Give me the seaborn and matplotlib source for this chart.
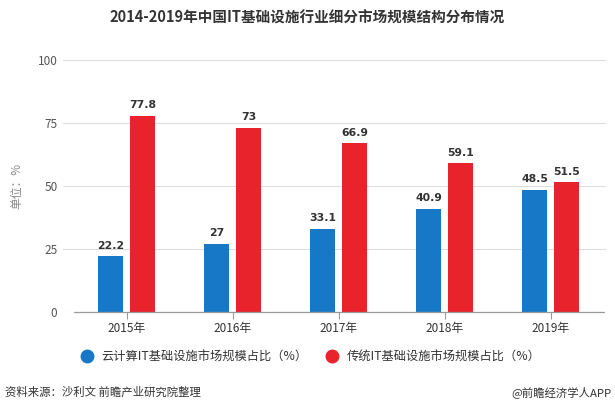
import matplotlib
matplotlib.use("Agg")
import matplotlib.pyplot as plt
import seaborn as sns
import pandas as pd
from matplotlib.lines import Line2D

years = ["2015年", "2016年", "2017年", "2018年", "2019年"]
cloud = [22.2, 27, 33.1, 40.9, 48.5]
trad = [77.8, 73, 66.9, 59.1, 51.5]
series_names = ["云计算IT基础设施市场规模占比（%）", "传统IT基础设施市场规模占比（%）"]
yticks = [0, 25, 50, 75, 100]

sns.set_theme(style="white")
plt.rcParams['font.family'] = ['Noto Sans CJK SC', 'DejaVu Sans']

df = pd.DataFrame({
    "year": years * 2,
    "value": cloud + trad,
    "series": [series_names[0]] * 5 + [series_names[1]] * 5,
})

colors = ["#1878c8", "#e8232b"]

W, H = 615, 415
left_px, right_px, top_px, bot_px = 63, 606, 60, 312
fig = plt.figure(figsize=(W / 100, H / 100), dpi=100)
ax = fig.add_axes([left_px / W, 1 - bot_px / H, (right_px - left_px) / W, (bot_px - top_px) / H])
sns.barplot(data=df, x="year", y="value", hue="series", palette=colors,
            width=0.604, gap=0.235, ax=ax, legend=False, saturation=1, linewidth=0)

# category spacing 106 px, first centre at x=126.5 px
unit = 106.0
c0 = 126.5
ax.set_xlim(-(c0 - left_px) / unit, (right_px - c0) / unit)
ax.set_ylim(0, 100)
ax.set_yticks(yticks)
ax.set_yticklabels([str(t) for t in yticks], color="#555555", fontsize=8.5)
ax.tick_params(axis='y', length=0, pad=4)
ax.set_xticks(range(len(years)))
ax.set_xticklabels(years, color="#333333", fontsize=8.5)
ax.tick_params(axis='x', length=5, color="#999999", width=0.8, pad=2, direction='out', bottom=True)
ax.grid(axis='y', color="#dddddd", linewidth=0.8)
ax.set_axisbelow(True)
for s in ["top", "right", "left", "bottom"]:
    ax.spines[s].set_visible(False)
# bottom axis line only over the category range
ax.plot([-0.5, 4.5], [0, 0], color="#999999", linewidth=0.9, clip_on=False, zorder=3)
ax.set_xlabel("")
ax.set_ylabel("单位：%", color="#888888", fontsize=8.5, labelpad=10)

for container in ax.containers:
    ax.bar_label(container, labels=[f"{v:g}" for v in container.datavalues],
                 padding=4, fontsize=7.8, fontweight="bold", color="#333333",
                 family="DejaVu Sans")

fig.text(0.5, 1 - 18 / H, "2014-2019年中国IT基础设施行业细分市场规模结构分布情况",
         ha="center", va="center", fontsize=10.5, fontweight="bold", color="#333333")

handles = [Line2D([0], [0], marker='o', linestyle='', markersize=9,
                  markerfacecolor=c, markeredgecolor=c) for c in colors]
fig.legend(handles, series_names, loc="center", bbox_to_anchor=(0.5, 1 - 357 / H),
           ncol=2, frameon=False, fontsize=8.8, handletextpad=0.2, columnspacing=1.0,
           labelcolor="#333333")

fig.text(0.008, 1 - 392 / H, "资料来源：沙利文 前瞻产业研究院整理", ha="left", va="center",
         fontsize=8.2, color="#333333")
fig.text(0.995, 1 - 392 / H, "@前瞻经济学人APP", ha="right", va="center",
         fontsize=8.2, color="#333333")

fig.savefig("out.png", dpi=100)
